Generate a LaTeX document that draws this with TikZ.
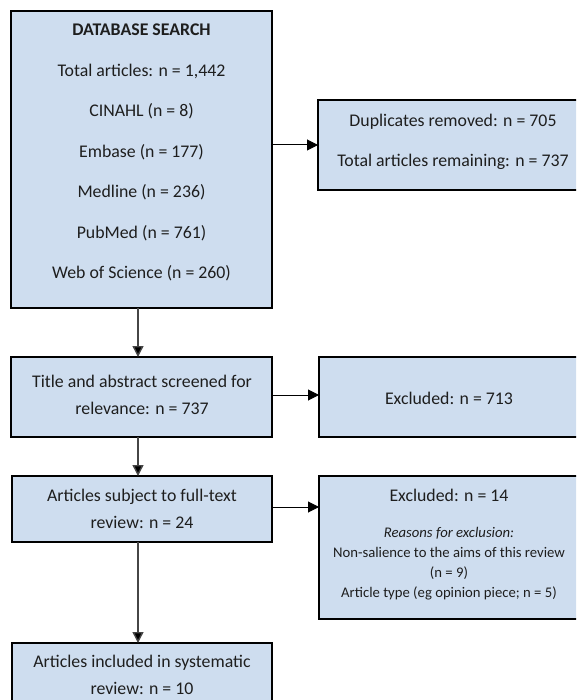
\documentclass[tikz,border=0pt]{standalone}
\usepackage{fontspec}
\setmainfont{Carlito}
\usetikzlibrary{arrows.meta,calc}
\definecolor{boxfill}{RGB}{206,221,239}
\definecolor{txtcol}{RGB}{30,30,30}
\definecolor{vline}{RGB}{70,70,70}
\begin{document}
\begin{tikzpicture}[x=1pt,y=-1pt,
  boxshape/.style={draw=black,line width=1.8pt,fill=boxfill,inner sep=0pt,outer sep=0pt},
  txt/.style={text=txtcol,align=center,inner sep=0pt,font=\fontsize{17.8}{27}\selectfont},
  bigtxt/.style={text=txtcol,align=center,inner sep=0pt,font=\fontsize{17.8}{40.5}\selectfont},
  smalltxt/.style={text=txtcol,align=center,inner sep=0pt,font=\fontsize{14.7}{20}\selectfont},
  harrow/.style={line width=1pt,draw=black,-{Triangle[length=11pt,width=11pt]}},
  varrow/.style={line width=1.4pt,draw=vline,-{Triangle[length=11pt,width=11pt,fill=black]}}]
\useasboundingbox (0,0) rectangle (576,700);
\clip (0,0) rectangle (576,700);
% boxes
\node[boxshape,minimum width=261pt,minimum height=297pt] (db) at (141.5,159.5) {};
\node[boxshape,minimum width=272pt,minimum height=90pt] (dup) at (454,145) {};
\node[boxshape,minimum width=261pt,minimum height=80pt] (title) at (141.5,397) {};
\node[boxshape,minimum width=271pt,minimum height=80pt] (exa) at (454.5,397) {};
\node[boxshape,minimum width=260pt,minimum height=66pt] (full) at (142,509) {};
\node[boxshape,minimum width=271pt,minimum height=143pt] (exb) at (454.5,547.5) {};
\node[boxshape,minimum width=260pt,minimum height=70pt] (incl) at (142,678) {};
% texts
\node[bigtxt] (dbtxt) at (141.5,152.5) {\textbf{DATABASE SEARCH}\\Total articles: n = 1,442\\CINAHL (n = 8)\\Embase (n = 177)\\Medline (n = 236)\\PubMed (n = 761)\\Web of Science (n = 260)};
\node[bigtxt] (duptxt) at (453,142) {Duplicates removed: n = 705\\Total articles remaining: n = 737};
\node[txt] (titletxt) at (142,394.5) {Title and abstract screened for\\relevance: n = 737};
\node[txt] (exatxt) at (449,398) {Excluded: n = 713};
\node[txt] (fulltxt) at (142,509) {Articles subject to full-text\\review: n = 24};
\node[txt] (exbhead) at (449,495) {Excluded: n = 14};
\node[smalltxt] (exbtxt) at (449,564) {\textit{Reasons for exclusion:}\\Non-salience to the aims of this review\\(n = 9)\\Article type (eg opinion piece; n = 5)};
\node[txt] (incltxt) at (142,674.5) {Articles included in systematic\\review: n = 10};
% connectors
\draw[harrow] (dup.west -| db.east) -- (dup.west);
\draw[harrow] ([yshift=2pt]title.east) -- ([yshift=2pt]title.east -| exa.west);
\draw[harrow] ([yshift=2pt]full.east) -- ([yshift=2pt]full.east -| exb.west);
\draw[varrow] ([xshift=-3.5pt]db.south) -- ([xshift=-3.5pt]title.north);
\draw[varrow] ([xshift=-3.5pt]title.south) -- ([xshift=-4pt]full.north);
\draw[varrow] ([xshift=-4pt]full.south) -- ([xshift=-4pt]incl.north);
\end{tikzpicture}
\end{document}
